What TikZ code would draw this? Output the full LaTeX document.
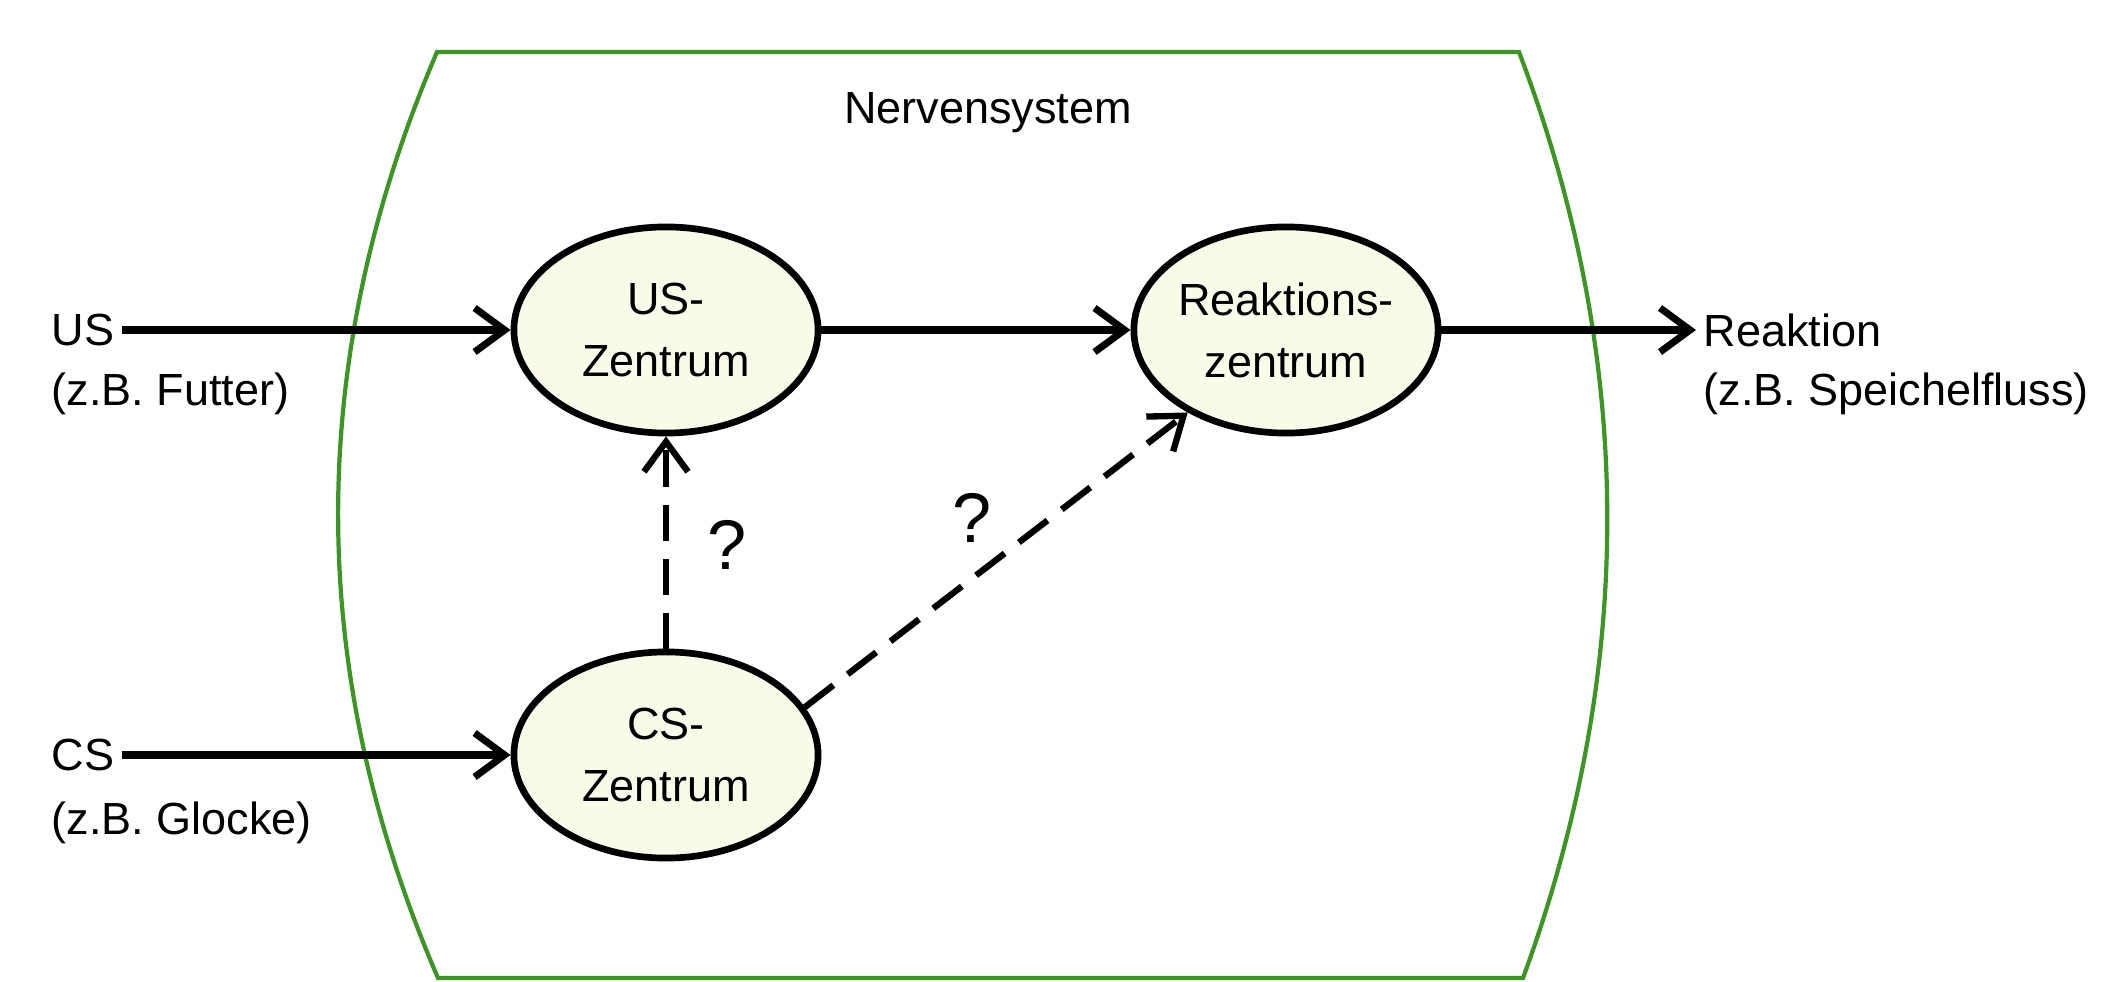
\documentclass[tikz,border=0pt]{standalone}
\usepackage{fontspec}
\setmainfont{Liberation Sans}
\usetikzlibrary{arrows.meta,shapes.geometric}

\definecolor{nervgruen}{RGB}{60,150,35}
\definecolor{zentrumgelb}{RGB}{250,250,232}

\begin{document}
\begin{tikzpicture}[
    x=0.01cm, y=-0.01cm,
    >={Straight Barb[length=3mm,width=4.4mm]},
    every node/.style={font=\fontsize{12.8}{17.6}\selectfont},
    zentrum/.style={
        draw, ellipse, line width=1.9pt, fill=zentrumgelb,
        minimum width=30.4mm, minimum height=20.6mm,
        align=center, inner sep=0pt
    },
    reiz/.style={anchor=west, inner sep=2pt, align=left},
    pfeil/.style={->, line width=2pt},
    vermutet/.style={->, line width=1.8pt, dash pattern=on 3.6mm off 1.8mm},
    frage/.style={font=\fontsize{20}{24}\selectfont}
]

\useasboundingbox (0,0) rectangle (2123,982);

% Nervensystem (gruener Rahmen)
\draw[nervgruen, line width=1.2pt]
    (437,52) -- (1519,52)
    .. controls (1636,360) and (1636,670) .. (1523,978)
    -- (438,978)
    .. controls (305,670) and (305,360) .. (437,52) -- cycle;
\node (nervensystem) at (988,113) {Nervensystem};

% Zentren
\node[zentrum] (uszentrum)   at (666,330)  {US-\\Zentrum};
\node[zentrum] (reaktzentrum) at (1286,330) {Reaktions-\\zentrum};
\node[zentrum] (cszentrum)   at (666,755)  {CS-\\Zentrum};

% Reize links
\node[reiz] (us)     at (44,330) {US};
\node[reiz] (usbsp)  at (44,394) {(z.B. Futter)};
\node[reiz] (cs)     at (44,755) {CS};
\node[reiz] (csbsp)  at (44,823) {(z.B. Glocke)};

% Reaktion rechts
\node[reiz] (reaktion)    at (1696,330) {Reaktion};
\node[reiz] (reaktionbsp) at (1696,394) {(z.B. Speichelfluss)};

% Verbindungen
\draw[pfeil] (us) -- (uszentrum);
\draw[pfeil] (cs) -- (cszentrum);
\draw[pfeil] (uszentrum) -- (reaktzentrum);
\draw[pfeil] (reaktzentrum) -- (reaktion);

% unbekannte Wege
\draw[vermutet] (cszentrum) -- (uszentrum);
\draw[vermutet] (cszentrum.19) -- (reaktzentrum.220);
\node[frage] (frage1) at (727,545) {?};
\node[frage] (frage2) at (972,518) {?};

\end{tikzpicture}
\end{document}
